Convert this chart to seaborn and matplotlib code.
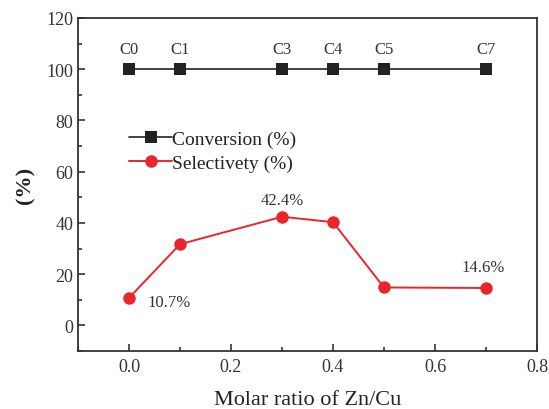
import matplotlib
matplotlib.use("Agg")
import matplotlib.pyplot as plt
import seaborn as sns
import pandas as pd
from matplotlib.ticker import MultipleLocator

ratio = [0.0, 0.1, 0.3, 0.4, 0.5, 0.7]
conversion = [100, 100, 100, 100, 100, 100]
selectivity = [10.7, 31.7, 42.4, 40.3, 14.8, 14.6]
sample_labels = ["C0", "C1", "C3", "C4", "C5", "C7"]

sns.set_theme(style="ticks")
plt.rcParams["font.family"] = ["Liberation Serif", "DejaVu Serif"]
plt.rcParams["mathtext.fontset"] = "stix"

df = pd.DataFrame({"ratio": ratio, "conversion": conversion, "selectivity": selectivity})

fig = plt.figure(figsize=(5.49, 4.10), dpi=100)
ax = fig.add_axes([78/549, 1-352/410, (537-78)/549, (352-19)/410])

sns.lineplot(data=df, x="ratio", y="conversion", ax=ax, color="#222222", lw=1.2,
             marker="s", markersize=8, markeredgewidth=0, label="Conversion (%)")
sns.lineplot(data=df, x="ratio", y="selectivity", ax=ax, color="#e8262b", lw=1.4,
             marker="o", markersize=9, markeredgewidth=0, label="Selectivety (%)")

for x, lab in zip(ratio, sample_labels):
    ax.annotate(lab, (x, 100), xytext=(0, 9), textcoords="offset points",
                ha="center", va="bottom", fontsize=12, color="#333333")

ax.annotate("10.7%", (ratio[0], selectivity[0]), xytext=(13, -3), textcoords="offset points",
            ha="left", va="center", fontsize=12, color="#333333")
ax.annotate("42.4%", (ratio[2], selectivity[2]), xytext=(0, 6), textcoords="offset points",
            ha="center", va="bottom", fontsize=12, color="#333333")
ax.annotate("14.6%", (ratio[5], selectivity[5]), xytext=(-2, 9), textcoords="offset points",
            ha="center", va="bottom", fontsize=12, color="#333333")

ax.set_xlim(-0.1, 0.8)
ax.set_ylim(-10, 120)
ax.xaxis.set_major_locator(MultipleLocator(0.2))
ax.xaxis.set_minor_locator(MultipleLocator(0.1))
ax.yaxis.set_major_locator(MultipleLocator(20))
ax.yaxis.set_minor_locator(MultipleLocator(10))
ax.tick_params(which="both", direction="in", labelsize=13, colors="#333333", width=1.2)
ax.tick_params(which="major", length=5)
ax.tick_params(which="minor", length=3)
ax.tick_params(axis="x", pad=5)
for s in ax.spines.values():
    s.set_linewidth(1.3)
    s.set_color("#333333")

ax.set_xlabel("Molar ratio of Zn/Cu", fontsize=16, color="#222222", labelpad=11)
ax.set_ylabel("(%)", fontsize=16, fontweight="bold", color="#222222", labelpad=8)

leg = ax.legend(loc="upper left", bbox_to_anchor=(0.095, 0.685), frameon=False,
                fontsize=14, handlelength=2.2, handletextpad=0.0, labelspacing=0.3,
                borderaxespad=0)
for t in leg.get_texts():
    t.set_color("#222222")

fig.savefig("out.png", dpi=100)
